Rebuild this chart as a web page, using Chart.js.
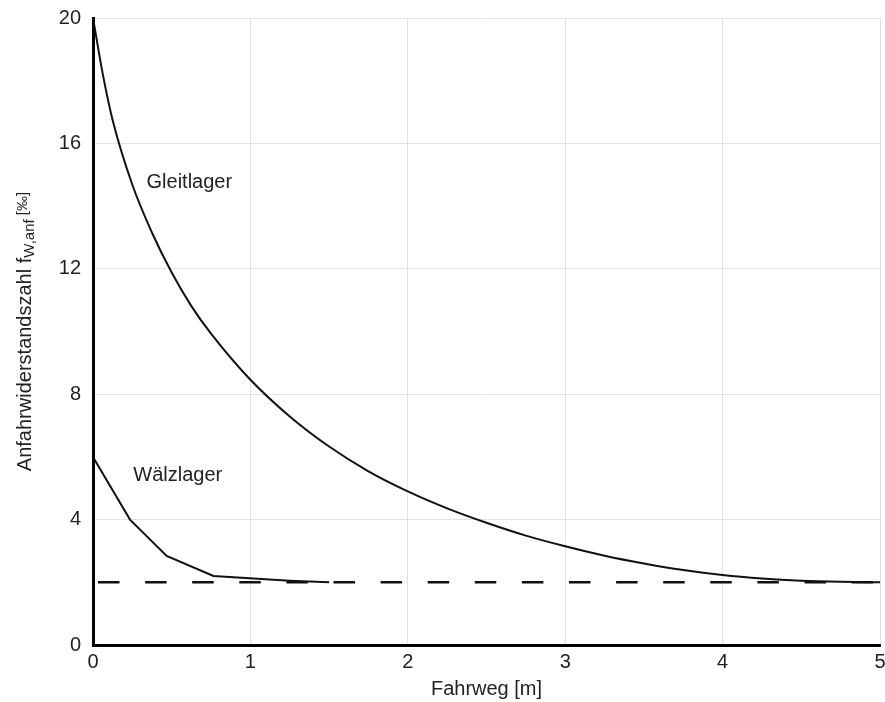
<!DOCTYPE html>
<html>
<head>
<meta charset="utf-8">
<script src="https://cdn.jsdelivr.net/npm/chart.js@4/dist/chart.umd.min.js"></script>
<style>
  html, body { margin: 0; padding: 0; background: #fff; }
  canvas { display: block; }
</style>
</head>
<body>
<canvas id="chart" width="885" height="702"></canvas>
<script>
// Gleitlager curve
const gleitX = [0, 0.0625, 0.125, 0.25, 0.375, 0.5, 0.625, 0.75, 1.0, 1.25, 1.5, 1.75, 2.0, 2.25, 2.5, 2.75, 3.0, 3.25, 3.5, 3.75, 4.0, 4.25, 4.5, 4.75, 5.0];
const gleitY = [20, 18.2, 16.74, 14.68, 13.15, 11.88, 10.81, 9.93, 8.46, 7.29, 6.33, 5.54, 4.9, 4.36, 3.9, 3.49, 3.15, 2.85, 2.6, 2.39, 2.23, 2.12, 2.05, 2.015, 2.0];

// Wälzlager polyline
const waelzX = [0, 0.235, 0.468, 0.765, 1.25, 1.5];
const waelzY = [6.0, 4.0, 2.84, 2.2, 2.05, 2.0];

// dashed limit line
const limitX = [0, 5];
const limitY = [2, 2];

const xTicks = [0, 1, 2, 3, 4, 5];
const yTicks = [0, 4, 8, 12, 16, 20];

const FONT = '"Liberation Sans", Arial, sans-serif';
const TXT = '#222';

const toPoints = (xs, ys) => xs.map((x, i) => ({ x: x, y: ys[i] }));

// curve labels + y title with subscript
const textPlugin = {
  id: 'texts',
  afterDatasetsDraw(chart) {
    const { ctx, scales: { x, y }, chartArea } = chart;
    ctx.save();
    ctx.fillStyle = TXT;
    ctx.font = '20px ' + FONT;
    ctx.textBaseline = 'middle';
    ctx.textAlign = 'left';
    ctx.fillText('Gleitlager', x.getPixelForValue(0.34), y.getPixelForValue(14.74));
    ctx.fillText('Wälzlager', x.getPixelForValue(0.256), y.getPixelForValue(5.42));

    // y axis title
    const main = 'Anfahrwiderstandszahl f';
    const sub = 'W,anf';
    const unit = ' [‰]';
    ctx.font = '20px ' + FONT;
    const wMain = ctx.measureText(main).width;
    ctx.font = '15px ' + FONT;
    const wSub = ctx.measureText(sub).width;
    const wUnit = ctx.measureText(unit).width;
    const total = wMain + wSub + wUnit;
    ctx.translate(25, (chartArea.top + chartArea.bottom) / 2);
    ctx.rotate(-Math.PI / 2);
    let pos = -total / 2;
    ctx.font = '20px ' + FONT;
    ctx.fillText(main, pos, 0);
    pos += wMain;
    ctx.font = '15px ' + FONT;
    ctx.fillText(sub, pos, 5);
    pos += wSub;
    ctx.fillText(unit, pos, -2);
    ctx.restore();
  }
};

new Chart(document.getElementById('chart'), {
  type: 'line',
  data: {
    datasets: [
      {
        label: 'Gleitlager',
        data: toPoints(gleitX, gleitY),
        borderColor: '#111',
        borderWidth: 2,
        pointRadius: 0,
        cubicInterpolationMode: 'monotone',
        clip: 4
      },
      {
        label: 'Wälzlager',
        data: toPoints(waelzX, waelzY),
        borderColor: '#111',
        borderWidth: 2,
        pointRadius: 0,
        tension: 0,
        clip: 4
      },
      {
        label: 'Grenzwert',
        data: toPoints(limitX, limitY),
        borderColor: '#111',
        borderWidth: 2.5,
        borderDash: [21.5, 25.6],
        borderDashOffset: -5,
        pointRadius: 0,
        clip: 4
      }
    ]
  },
  options: {
    responsive: false,
    animation: false,
    layout: { padding: { top: 18, right: 5, left: 0, bottom: 0 } },
    plugins: {
      legend: { display: false },
      tooltip: { enabled: false }
    },
    scales: {
      x: {
        type: 'linear',
        min: 0,
        max: 5,
        afterBuildTicks: s => { s.ticks = xTicks.map(v => ({ value: v })); },
        afterFit: s => { s.height = 57; s.paddingLeft = 0; s.paddingRight = 0; },
        ticks: { color: TXT, font: { family: FONT, size: 20 }, padding: 5, maxRotation: 0 },
        grid: { color: '#e2e2e2', lineWidth: 1, drawTicks: false },
        border: { color: '#000', width: 3 },
        title: {
          display: true,
          text: 'Fahrweg [m]',
          color: TXT,
          font: { family: FONT, size: 20 },
          padding: { top: 0, bottom: 1 }
        }
      },
      y: {
        min: 0,
        max: 20,
        afterBuildTicks: s => { s.ticks = yTicks.map(v => ({ value: v })); },
        afterFit: s => { s.width = 93; s.paddingTop = 0; s.paddingBottom = 0; },
        ticks: { color: TXT, font: { family: FONT, size: 20 }, padding: 12 },
        grid: { color: '#e2e2e2', lineWidth: 1, drawTicks: false },
        border: { color: '#000', width: 3 }
      }
    }
  },
  plugins: [textPlugin]
});
</script>
</body>
</html>
